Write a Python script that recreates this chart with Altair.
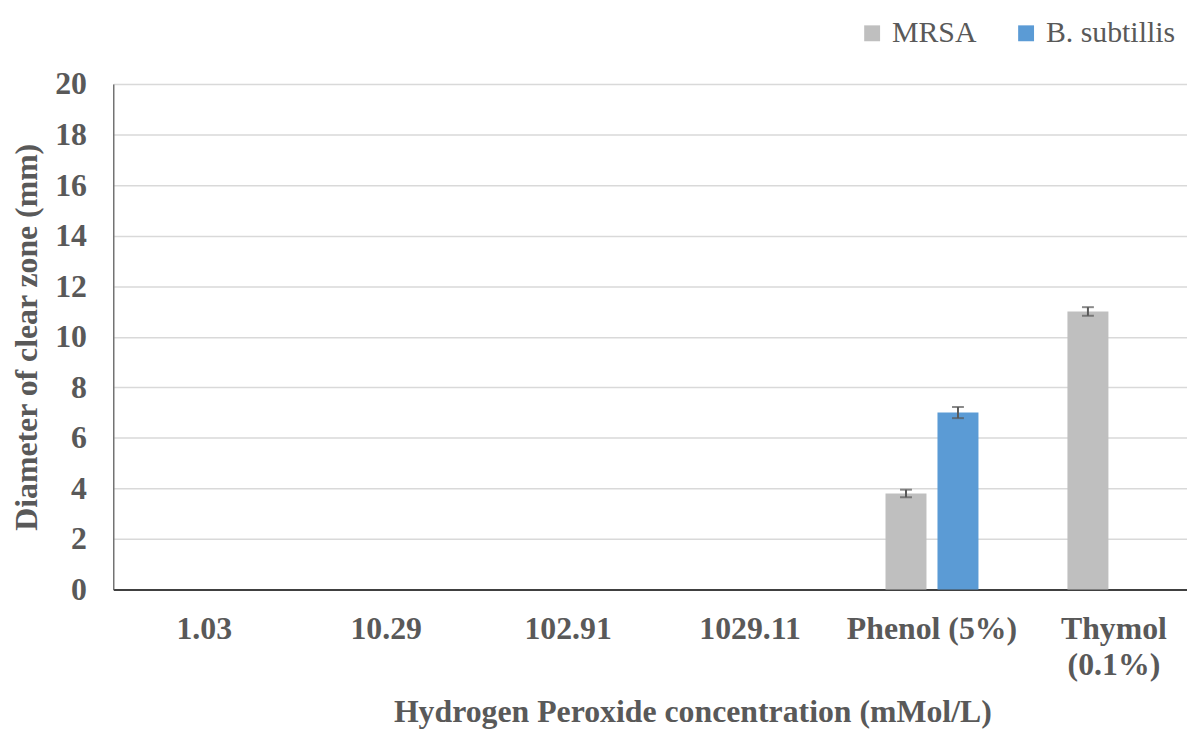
import altair as alt
import pandas as pd

categories = ["1.03", "10.29", "102.91", "1029.11", "Phenol (5%)", "Thymol (0.1%)"]
series = ["MRSA", "B. subtillis"]
mrsa = [0, 0, 0, 0, 3.8, 11.0]
bsub = [0, 0, 0, 0, 7.0, 0]
mrsa_err = [0, 0, 0, 0, 0.15, 0.17]
bsub_err = [0, 0, 0, 0, 0.22, 0]
y_ticks = [0, 2, 4, 6, 8, 10, 12, 14, 16, 18, 20]

rows = []
for i, c in enumerate(categories):
    rows.append(dict(cat=c, series="MRSA", value=mrsa[i], err=mrsa_err[i]))
    rows.append(dict(cat=c, series="B. subtillis", value=bsub[i], err=bsub_err[i]))
df = pd.DataFrame(rows)
df["lo"] = df["value"] - df["err"]
df["hi"] = df["value"] + df["err"]

FONT = "'Liberation Serif', 'Times New Roman', Times, serif"
GREY = "#595959"
YTITLE = "Diameter of clear zone (mm)"

xscale = alt.Scale(domain=categories, paddingInner=0, paddingOuter=0)
xoff = alt.Scale(domain=series, paddingInner=0.2115, paddingOuter=0.856)
yscale = alt.Scale(domain=[0, 20], nice=False)
cscale = alt.Scale(domain=series, range=["#bfbfbf", "#5b9bd5"])

xaxis = alt.Axis(
    title="Hydrogen Peroxide concentration (mMol/L)",
    labelAngle=0,
    labelExpr="datum.value == 'Thymol (0.1%)' ? ['Thymol', '(0.1%)'] : datum.value",
    labelLineHeight=37,
    labelOverlap=False,
    labelFlush=False,
    labelFont=FONT, labelFontWeight="bold", labelFontSize=32, labelColor=GREY,
    labelPadding=24,
    ticks=False, grid=False,
    domainColor="#404040", domainWidth=2,
    titleFont=FONT, titleFontWeight="bold", titleFontSize=32, titleColor=GREY,
    titleX=583, titleY=133, titleBaseline="alphabetic", titleAnchor="middle", titleAlign="center",
)

yaxis = alt.Axis(
    title=YTITLE,
    values=y_ticks,
    labelFont=FONT, labelFontWeight="bold", labelFontSize=32, labelColor=GREY,
    labelPadding=27,
    ticks=False, grid=True, gridColor="#d9d9d9", gridWidth=1.5,
    domainColor=GREY, domainWidth=1.2,
    titleFont=FONT, titleFontWeight="bold", titleFontSize=32, titleColor=GREY,
    titleX=-87, titleY=254.5, titleAngle=270, titleBaseline="middle", titleAlign="center",
)

base = alt.Chart(df).encode(
    x=alt.X("cat:N", scale=xscale, sort=categories, axis=xaxis),
    xOffset=alt.XOffset("series:N", scale=xoff, sort=series),
)

bars = base.mark_bar().encode(
    y=alt.Y("value:Q", scale=yscale, axis=yaxis, title=YTITLE),
    color=alt.Color(
        "series:N", scale=cscale, sort=series,
        legend=alt.Legend(
            title=None, orient="none", legendX=749, legendY=-66,
            direction="horizontal", symbolType="square", symbolSize=256,
            symbolStrokeWidth=0, symbolOpacity=1,
            labelFont=FONT, labelFontSize=30, labelColor=GREY,
            columnPadding=34, labelOffset=5,
        ),
    ),
)

err = base.transform_filter("datum.err > 0")
rule = err.mark_rule(color=GREY, strokeWidth=2).encode(
    y=alt.Y("lo:Q", scale=yscale, title=YTITLE), y2="hi:Q"
)
cap_hi = err.mark_tick(color=GREY, orient="horizontal", size=12, thickness=2).encode(
    y=alt.Y("hi:Q", scale=yscale, title=YTITLE)
)
cap_lo = err.mark_tick(color=GREY, orient="horizontal", size=12, thickness=2).encode(
    y=alt.Y("lo:Q", scale=yscale, title=YTITLE)
)

chart = alt.layer(bars, rule, cap_hi, cap_lo).properties(
    width=1099, height=509,
    autosize=alt.AutoSizeParams(type="none"),
    padding={"left": 106, "top": 74, "right": -18, "bottom": 146},
).configure_view(stroke=None).configure(background="white")

chart.save("out.html", embed_options={"renderer": "svg", "actions": False})
